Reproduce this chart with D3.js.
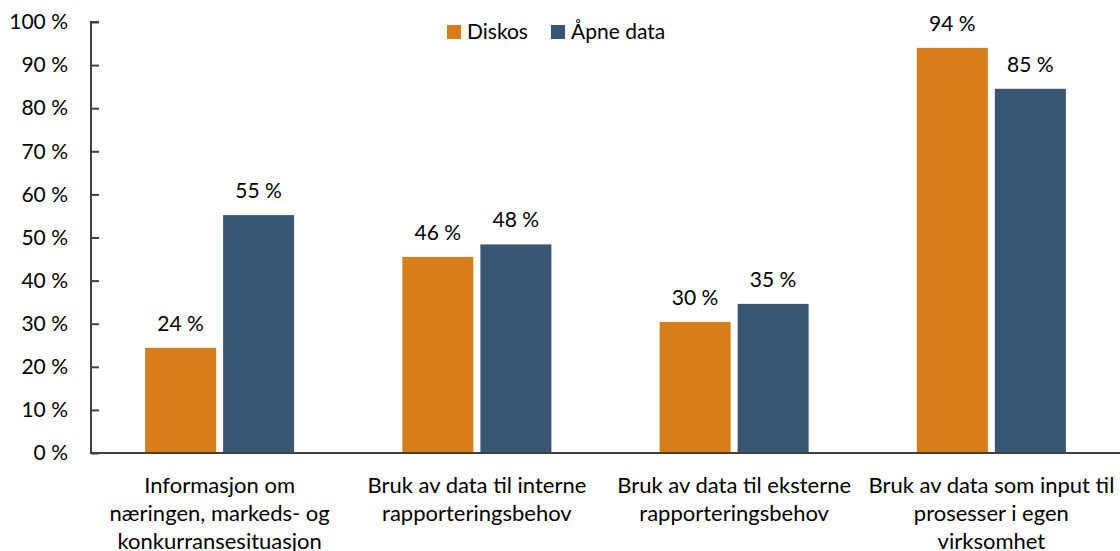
<!DOCTYPE html>
<html><head><meta charset="utf-8">
<script src="https://cdn.jsdelivr.net/npm/d3@7"></script>
<style>body{margin:0;background:#fff}svg text{font-family:Lato,"Open Sans",sans-serif;fill:#000}</style>
</head><body><svg id="c" width="1120" height="551"></svg>
<script>
const categories = [
  ["Informasjon om", "næringen, markeds- og", "konkurransesituasjon"],
  ["Bruk av data til interne", "rapporteringsbehov"],
  ["Bruk av data til eksterne", "rapporteringsbehov"],
  ["Bruk av data som input til", "prosesser i egen", "virksomhet"]
];
const seriesNames = ["Diskos", "Åpne data"];
const diskos = [24.4, 45.5, 30.4, 94.0];
const apneData = [55.2, 48.4, 34.6, 84.5];
const yTicks = [0,10,20,30,40,50,60,70,80,90,100];
const colors = ["#D77E19", "#3A5675"];

const svg = d3.select("#c");
const mLeft = 91, mRight = 1120, mTop = 22, mBottom = 453;
const x = d3.scaleBand().domain(d3.range(categories.length)).range([mLeft, mRight]).paddingInner(0).paddingOuter(0);
const y = d3.scaleLinear().domain([0,100]).range([mBottom, mTop]);
const barW = 71, gap = 7;
const series = [diskos, apneData];
const fs = 21;

// bars
series.forEach((vals, si) => {
  const g = svg.append("g");
  g.selectAll("rect").data(vals).join("rect")
    .attr("x", (d,i) => x(i) + x.bandwidth()/2 + (si===0 ? -gap/2 - barW : gap/2))
    .attr("width", barW)
    .attr("y", d => y(d))
    .attr("height", d => y(0) - y(d))
    .attr("fill", colors[si]);
  g.selectAll("text").data(vals).join("text")
    .attr("x", (d,i) => x(i) + x.bandwidth()/2 + (si===0 ? -gap/2 - barW/2 : gap/2 + barW/2))
    .attr("y", d => y(d) - 17)
    .attr("text-anchor", "middle")
    .attr("font-size", fs)
    .text(d => Math.round(d) + " %");
});

// y axis
const yAxis = d3.axisLeft(y).tickValues(yTicks).tickSize(-8).tickPadding(23).tickFormat(d => d + " %");
const ya = svg.append("g").attr("transform", `translate(${mLeft},0)`).call(yAxis);
ya.select(".domain").attr("stroke", "#404040").attr("stroke-width", 2).attr("d", `M8,${mTop}H0V${mBottom}`);
ya.selectAll(".tick line").attr("stroke", "#404040").attr("stroke-width", 2);
ya.selectAll(".tick text").attr("font-size", fs).attr("font-family", "Lato, 'Open Sans', sans-serif").attr("fill", "#000");

// x axis line
svg.append("line").attr("x1", mLeft-1).attr("x2", mRight).attr("y1", mBottom).attr("y2", mBottom)
  .attr("stroke", "#404040").attr("stroke-width", 2);

// category labels
categories.forEach((lines, i) => {
  const t = svg.append("text").attr("text-anchor", "middle").attr("font-size", 22);
  lines.forEach((ln, k) => {
    t.append("tspan").attr("x", x(i) + x.bandwidth()/2).attr("y", 493 + k*28).text(ln);
  });
});

// legend
const legX = [447, 551];
seriesNames.forEach((n, i) => {
  svg.append("rect").attr("x", legX[i]).attr("y", 25).attr("width", 14).attr("height", 14).attr("fill", colors[i]);
  svg.append("text").attr("x", legX[i] + 20).attr("y", 39).attr("font-size", fs).text(n);
});
</script></body></html>
